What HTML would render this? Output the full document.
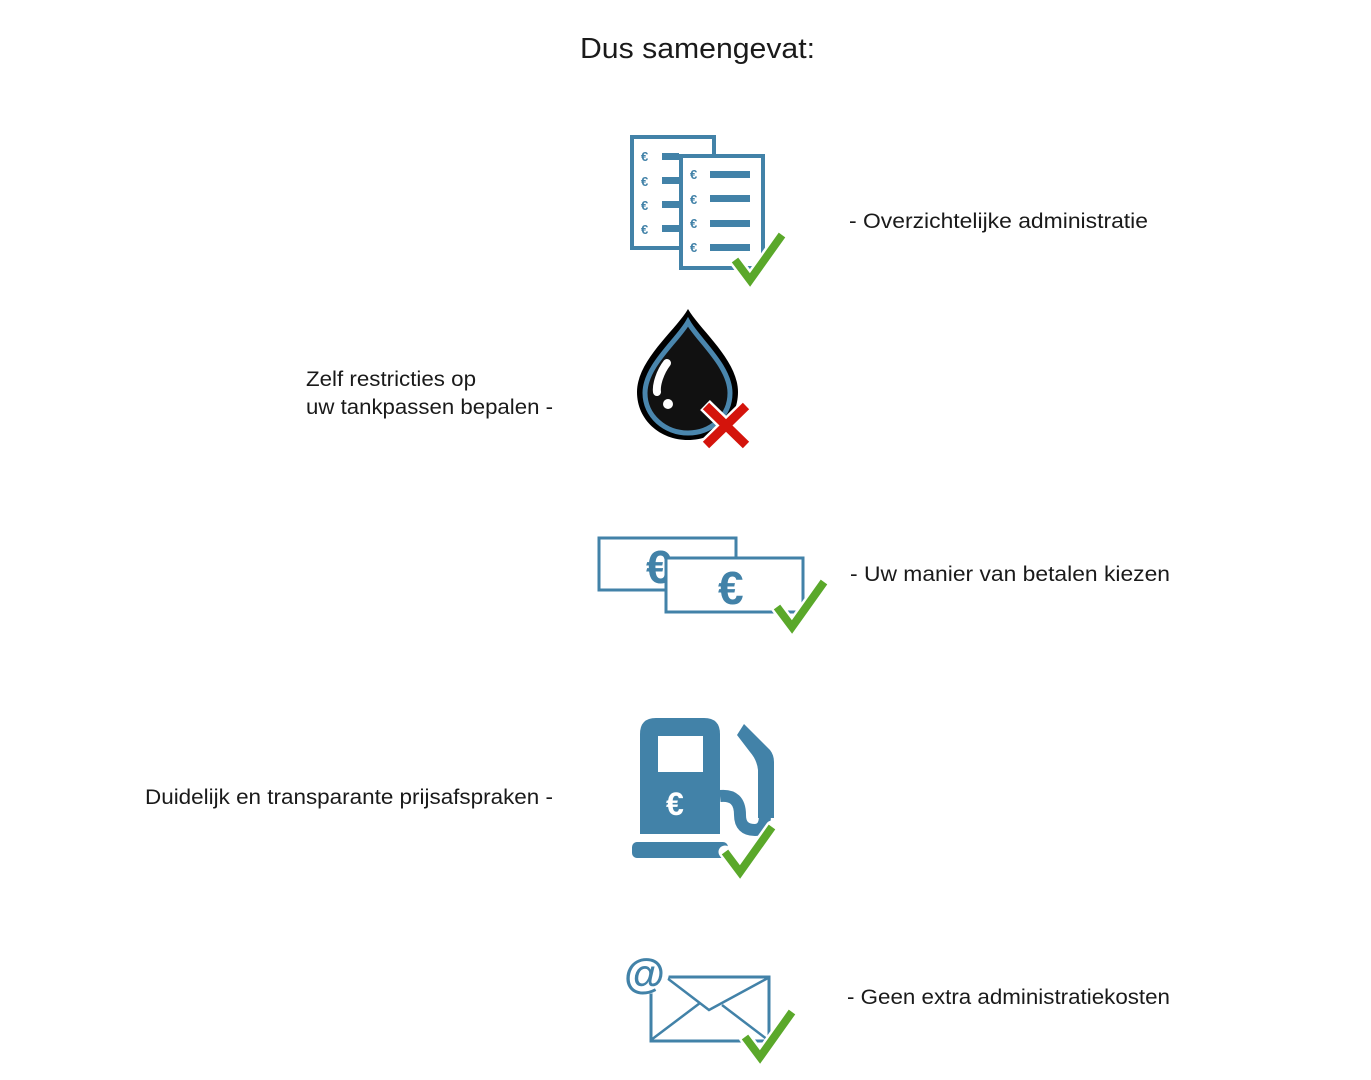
<!DOCTYPE html>
<html><head><meta charset="utf-8"><style>
html,body{margin:0;padding:0;background:#fff;}
svg{display:block;}
text{font-family:"Liberation Sans",sans-serif;fill:#1a1a1a;}
</style></head><body>
<svg width="1371" height="1080" viewBox="0 0 1371 1080" xmlns="http://www.w3.org/2000/svg">
<defs>
<g id="chk"><path d="M0,0 L15,20 L47,-25" fill="none" stroke="#fff" stroke-width="13" stroke-linecap="round" stroke-linejoin="round"/><path d="M0,0 L15,20 L47,-25" fill="none" stroke="#5aa82a" stroke-width="8" stroke-linejoin="miter"/></g>
</defs>
<text x="580" y="58" font-size="29" textLength="235" lengthAdjust="spacingAndGlyphs">Dus samengevat:</text>

<!-- documents -->
<g stroke="#4282a8" fill="#fff" stroke-width="4">
<rect x="632" y="137" width="82" height="111"/>
<rect x="681" y="156" width="82" height="112"/>
</g>
<g fill="#4282a8">
<rect x="662" y="153" width="17" height="7"/><rect x="662" y="177" width="17" height="7"/><rect x="662" y="201" width="17" height="7"/><rect x="662" y="225" width="17" height="7"/>
<rect x="710" y="171" width="40" height="7"/><rect x="710" y="195" width="40" height="7"/><rect x="710" y="220" width="40" height="7"/><rect x="710" y="244" width="40" height="7"/>
</g>
<g font-size="13" font-weight="bold">
<text x="641" y="161" style="fill:#4282a8">€</text><text x="641" y="186" style="fill:#4282a8">€</text><text x="641" y="210" style="fill:#4282a8">€</text><text x="641" y="234" style="fill:#4282a8">€</text>
<text x="690" y="179" style="fill:#4282a8">€</text><text x="690" y="204" style="fill:#4282a8">€</text><text x="690" y="228" style="fill:#4282a8">€</text><text x="690" y="252" style="fill:#4282a8">€</text>
</g>
<use href="#chk" x="735" y="260"/>
<text x="849" y="228" font-size="21" textLength="299" lengthAdjust="spacingAndGlyphs">- Overzichtelijke administratie</text>

<!-- drop -->
<path d="M688,309 C700,330 738,360 738,392 C738,420 716,440 688,440 C660,440 637,420 637,392 C637,360 676,330 688,309 Z" fill="#000"/>
<path d="M688,322 C698,340 730,366 730,393 C730,416 711,433 688,433 C665,433 645,416 645,393 C645,366 678,340 688,322 Z" fill="#111" stroke="#4a86ad" stroke-width="5"/>
<path d="M667,363 C660,372 656,385 657,392" stroke="#fff" stroke-width="8" stroke-linecap="round" fill="none"/>
<circle cx="668" cy="404" r="5" fill="#fff"/>
<path d="M705,405 L747,446 M747,405 L705,446" stroke="#fff" stroke-width="14"/>
<path d="M706,406 L746,445 M746,406 L706,445" stroke="#d4140c" stroke-width="9"/>
<text x="306" y="386" font-size="21" textLength="170" lengthAdjust="spacingAndGlyphs">Zelf restricties op</text>
<text x="306" y="414" font-size="21" textLength="247" lengthAdjust="spacingAndGlyphs">uw tankpassen bepalen -</text>

<!-- money -->
<rect x="599" y="538" width="137" height="52" fill="#fff" stroke="#4282a8" stroke-width="3"/>
<text x="646" y="583" font-size="46" font-weight="bold" style="fill:#4282a8">€</text>
<rect x="666" y="558" width="137" height="54" fill="#fff" stroke="#4282a8" stroke-width="3"/>
<text x="718" y="604" font-size="46" font-weight="bold" style="fill:#4282a8">€</text>
<use href="#chk" x="777" y="607"/>
<text x="850" y="581" font-size="21" textLength="320" lengthAdjust="spacingAndGlyphs">- Uw manier van betalen kiezen</text>

<!-- pump -->
<path d="M656,718 H704 Q720,718 720,734 V834 H640 V734 Q640,718 656,718 Z" fill="#4282a8"/>
<rect x="658" y="736" width="45" height="36" fill="#fff"/>
<text x="666" y="815" font-size="32" font-weight="bold" style="fill:#fff">€</text>
<rect x="632" y="842" width="96" height="16" rx="5" fill="#4282a8"/>
<path d="M720,796 Q740,794 740,815 Q740,830 755,830 Q765,830 765,815" fill="none" stroke="#4282a8" stroke-width="12"/>
<path d="M744,724 L770,750 Q774,755 774,762 V818 L758,818 V770 Q757,760 750,752 L737,735 Z" fill="#4282a8"/>
<use href="#chk" x="725" y="852"/>
<text x="145" y="804" font-size="21" textLength="408" lengthAdjust="spacingAndGlyphs">Duidelijk en transparante prijsafspraken -</text>

<!-- mail -->
<rect x="651" y="977" width="118" height="64" fill="#fff" stroke="#4282a8" stroke-width="3"/>
<path d="M667,978 L709,1010 L768,978 M651,1040 L700,1003 M768,1040 L722,1005" fill="none" stroke="#4282a8" stroke-width="2.5"/>
<circle cx="647" cy="972" r="22" fill="#fff"/>
<text x="624" y="988" font-size="42" font-weight="bold" style="fill:#4282a8">@</text>
<use href="#chk" x="745" y="1037"/>
<text x="847" y="1004" font-size="21" textLength="323" lengthAdjust="spacingAndGlyphs">- Geen extra administratiekosten</text>
</svg>
</body></html>
